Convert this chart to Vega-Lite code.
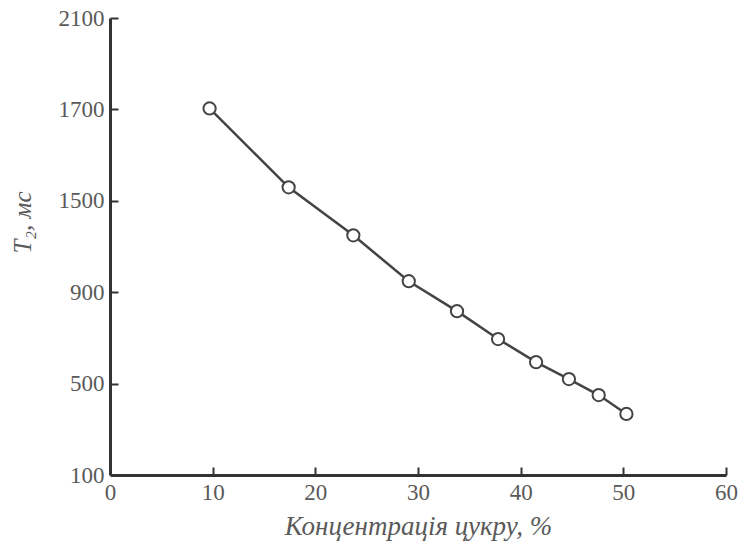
{
  "$schema": "https://vega.github.io/schema/vega-lite/v6.json",
  "width": 616,
  "height": 457,
  "autosize": {"type": "none"},
  "padding": {"left": 110, "top": 18, "right": 18, "bottom": 83},
  "background": "white",
  "config": {
    "view": {"stroke": null},
    "axis": {
      "labelFont": "Liberation Serif",
      "titleFont": "Liberation Serif",
      "labelFontSize": 23,
      "titleFontSize": 25,
      "labelColor": "#5a5a5a",
      "titleColor": "#5a5a5a",
      "titleFontStyle": "italic",
      "titleFontWeight": "normal",
      "domainColor": "#333",
      "domainWidth": 3,
      "tickColor": "#333",
      "tickWidth": 2,
      "grid": false
    }
  },
  "data": {
    "values": [
      {"c": 9.7, "t": 1704},
      {"c": 17.4, "t": 1359},
      {"c": 23.7, "t": 1149},
      {"c": 29.1, "t": 948},
      {"c": 33.8, "t": 817},
      {"c": 37.8, "t": 695},
      {"c": 41.5, "t": 594},
      {"c": 44.7, "t": 520},
      {"c": 47.6, "t": 450},
      {"c": 50.3, "t": 367}
    ]
  },
  "layer": [
    {
      "mark": {"type": "line", "color": "#444", "strokeWidth": 2.5},
      "encoding": {
        "x": {
          "field": "c",
          "type": "quantitative",
          "scale": {"domain": [0, 60], "nice": false, "zero": false},
          "axis": {
            "orient": "bottom",
            "title": "Концентрація цукру, %",
            "titleFontSize": 27,
            "values": [0, 10, 20, 30, 40, 50, 60],
            "ticks": false,
            "labelPadding": 6,
            "titlePadding": 9,
            "labelFlush": false
          }
        },
        "y": {
          "field": "t",
          "type": "quantitative",
          "scale": {"domain": [100, 2100], "nice": false, "zero": false},
          "axis": {
            "orient": "left",
            "title": "T₂, мс",
            "values": [100, 500, 900, 1300, 1700, 2100],
            "labelExpr": "datum.value == 1300 ? '1500' : datum.label",
            "format": "d",
            "ticks": false,
            "labelPadding": 6,
            "titleX": -88,
            "titleY": 204,
            "titleAlign": "center",
            "titleBaseline": "middle",
            "labelFlush": false
          }
        }
      }
    },
    {
      "mark": {"type": "point", "shape": "circle", "size": 150, "filled": true, "fill": "white", "stroke": "#444", "strokeWidth": 2, "opacity": 1},
      "encoding": {
        "x": {
          "field": "c",
          "type": "quantitative",
          "scale": {"domain": [0, 60], "nice": false, "zero": false},
          "axis": {
            "orient": "top",
            "offset": -457,
            "title": null,
            "values": [10, 20, 30, 40, 50, 60],
            "labels": false,
            "domain": false,
            "tickSize": 8
          }
        },
        "y": {
          "field": "t",
          "type": "quantitative",
          "scale": {"domain": [100, 2100], "nice": false, "zero": false},
          "axis": {
            "orient": "right",
            "offset": -616,
            "title": null,
            "values": [500, 900, 1300, 1700, 2100],
            "labels": false,
            "domain": false,
            "tickSize": 8
          }
        }
      }
    }
  ],
  "resolve": {"scale": {"x": "independent", "y": "independent"}, "axis": {"x": "independent", "y": "independent"}}
}
